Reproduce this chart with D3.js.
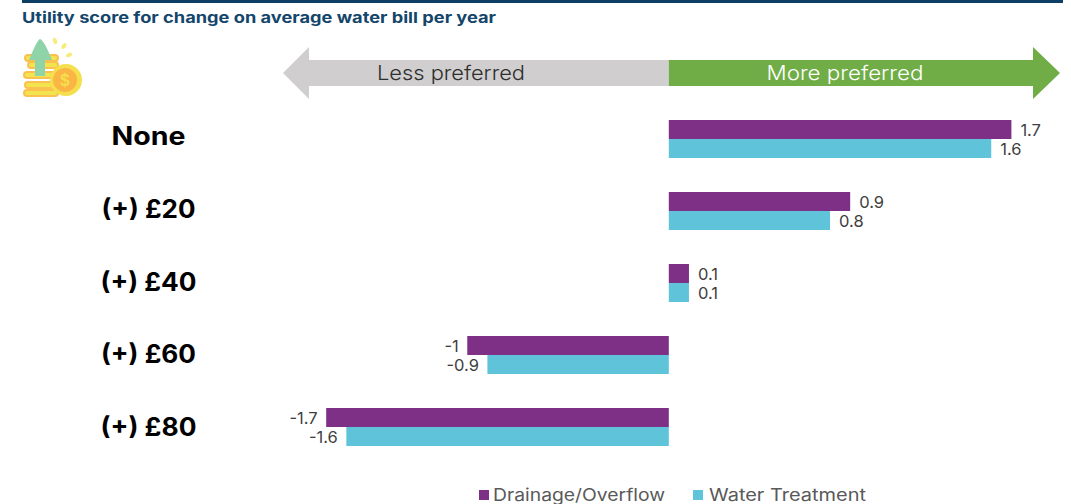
<!DOCTYPE html>
<html><head><meta charset="utf-8">
<script src="https://cdnjs.cloudflare.com/ajax/libs/d3/7.8.5/d3.min.js"></script>
<style>html,body{margin:0;padding:0;background:#fff}svg{display:block}text{font-family:Inter,"Open Sans",sans-serif}</style>
</head><body><svg id="c" width="1071" height="504"></svg>
<script>
const categories = ["None","(+) £20","(+) £40","(+) £60","(+) £80"];
const seriesNames = ["Drainage/Overflow","Water Treatment"];
const drainage = [1.7,0.9,0.1,-1,-1.7];
const water = [1.6,0.8,0.1,-0.9,-1.6];
const colors = ["#7e3086","#5fc3da"];
const title = "Utility score for change on average water bill per year";

const svg = d3.select("#c");
const x = d3.scaleLinear().domain([-1.7,1.7]).range([326.2,1011.4]);
const y = d3.scaleBand().domain(categories).range([103,463]);
const labelY = d3.scaleBand().domain(categories).range([99.5,463.5]);
const inner = d3.scaleBand().domain(seriesNames).range([y.bandwidth()/2-19, y.bandwidth()/2+19]);
const zero = x(0);
const labelWidths = [74,94,96,95,96];

svg.append("rect").attr("x",22).attr("y",0).attr("width",1041).attr("height",3).attr("fill","#0c3f63");
svg.append("text").attr("x",22).attr("y",22.5).attr("font-size",15).attr("font-weight",700).attr("fill","#14466b")
  .attr("textLength",474).attr("lengthAdjust","spacingAndGlyphs").text(title);

// arrows
svg.append("path").attr("fill","#d0cece").attr("d",d3.line()([[zero,60],[309,60],[309,47],[283,73],[309,99],[309,86],[zero,86]])+"Z");
svg.append("path").attr("fill","#70ad47").attr("d",d3.line()([[zero,60],[1033,60],[1033,47],[1060,73],[1033,99],[1033,86],[zero,86]])+"Z");
svg.append("text").attr("x",451).attr("y",80).attr("text-anchor","middle").attr("font-size",20).attr("font-weight",300).attr("fill","#2e2e2e")
  .attr("textLength",148).attr("lengthAdjust","spacingAndGlyphs").text("Less preferred");
svg.append("text").attr("x",845).attr("y",80).attr("text-anchor","middle").attr("font-size",20).attr("font-weight",300).attr("fill","#fff")
  .attr("textLength",157).attr("lengthAdjust","spacingAndGlyphs").text("More preferred");

// icon
const ic = svg.append("g");
[[25,55,33],[28,62,30],[24,72,34],[25,82,33],[24,90,34]].forEach(r=>{
  ic.append("rect").attr("x",r[0]).attr("y",r[1]).attr("width",r[2]).attr("height",6).attr("rx",3).attr("fill","#f2e34f").attr("stroke","#fbc14e").attr("stroke-width",2);
});
ic.append("circle").attr("cx",66).attr("cy",80).attr("r",16).attr("fill","#f4e04d");
ic.append("circle").attr("cx",65).attr("cy",80).attr("r",12).attr("fill","#fbb545");
ic.append("text").attr("x",65).attr("y",86).attr("text-anchor","middle").attr("font-size",16).attr("font-weight",600).attr("fill","#f4e04d").text("$");
ic.append("path").attr("fill","#8fd3a8").attr("d","M40 39 Q37 40 29 60 H35 V76 H45 V60 H52 Q44 40 40 39Z");
[[55,41,-20],[64,46,40],[69,55,65]].forEach(d=>{
  ic.append("ellipse").attr("cx",d[0]).attr("cy",d[1]).attr("rx",2).attr("ry",3.2).attr("fill","#f5ec7a").attr("transform",`rotate(${d[2]} ${d[0]} ${d[1]})`);
});

// category labels
svg.selectAll(".cat").data(categories).join("text").attr("class","cat")
  .attr("x",148.5).attr("y",d=>labelY(d)+labelY.bandwidth()/2+9).attr("text-anchor","middle")
  .attr("font-size",25).attr("font-weight",700).attr("fill","#000")
  .attr("textLength",(d,i)=>labelWidths[i]).attr("lengthAdjust","spacingAndGlyphs").text(d=>d);

// bars
const rows = categories.map((c,i)=>({c,vals:[drainage[i],water[i]]}));
const g = svg.selectAll(".row").data(rows).join("g").attr("class","row").attr("transform",d=>`translate(0,${y(d.c)})`);
seriesNames.forEach((s,k)=>{
  g.append("rect").attr("x",d=>Math.min(x(d.vals[k]),zero)).attr("y",inner(s)).attr("height",inner.bandwidth())
   .attr("width",d=>Math.abs(x(d.vals[k])-zero)).attr("fill",colors[k]);
  g.append("text").attr("x",d=>d.vals[k]>=0?x(d.vals[k])+9:x(d.vals[k])-8.5)
   .attr("y",inner(s)+inner.bandwidth()/2+6).attr("text-anchor",d=>d.vals[k]>=0?"start":"end")
   .attr("font-size",16.5).attr("fill","#404040").text(d=>String(d.vals[k]));
});

// legend
const lx=[479,693], tx=[493,709], tw=[172,157];
seriesNames.forEach((s,k)=>{
  svg.append("rect").attr("x",lx[k]).attr("y",490).attr("width",10).attr("height",10).attr("fill",colors[k]);
  svg.append("text").attr("x",tx[k]).attr("y",500.5).attr("font-size",17).attr("fill","#595959")
   .attr("textLength",tw[k]).attr("lengthAdjust","spacingAndGlyphs").text(s);
});
</script></body></html>
